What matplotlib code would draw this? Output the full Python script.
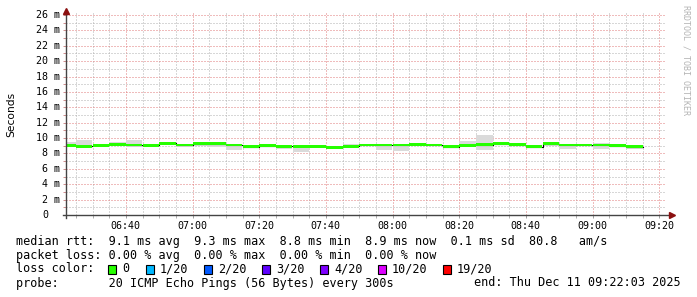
import datetime as dt
import matplotlib
matplotlib.use("Agg")
import matplotlib.pyplot as plt
import matplotlib.dates as mdates
from matplotlib.patches import Rectangle
from matplotlib.ticker import MultipleLocator

W, H = 697, 297
MONO = "DejaVu Sans Mono"

# --- data ---
day = dt.datetime(2025, 12, 11)
t_start = day.replace(hour=6, minute=22, second=3)
t_end = day.replace(hour=9, minute=22, second=3)
first_slot = day.replace(hour=6, minute=20)   # 5 minute slots

median_ms = [9.05, 8.95, 9.05, 9.2, 9.1, 9.05, 9.3, 9.1, 9.25, 9.25,
             9.1, 8.9, 9.0, 8.95, 8.95, 8.95, 8.8, 8.95, 9.1, 9.1,
             9.1, 9.2, 9.1, 8.9, 9.05, 9.15, 9.25, 9.15, 8.9, 9.25,
             9.1, 9.1, 9.1, 9.0, 8.9]
smoke_lo_ms = [8.9, 8.7, 9.0, 9.0, 8.9, 8.9, 9.1, 8.9, 9.0, 8.85,
               8.4, 8.8, 8.9, 8.6, 8.25, 8.85, 8.7, 8.8, 9.0, 8.4,
               8.35, 9.1, 9.0, 8.85, 8.9, 8.45, 9.1, 9.1, 8.85, 9.0,
               8.6, 9.0, 8.6, 8.9, 8.6]
smoke_hi_ms = [9.5, 9.8, 9.2, 9.5, 9.8, 9.1, 9.4, 9.2, 9.3, 9.4,
               9.2, 9.0, 9.1, 9.0, 9.0, 9.05, 8.9, 9.2, 9.2, 9.2,
               9.2, 9.3, 9.2, 9.0, 9.6, 10.4, 9.3, 9.2, 9.0, 9.4,
               9.2, 9.2, 9.3, 9.1, 9.0]

rtt_stats = ["9.1 ms avg", "9.3 ms max", "8.8 ms min", "8.9 ms now", "0.1 ms sd", "80.8   am/s"]
loss_stats = ["0.00 % avg", "0.00 % max", "0.00 % min", "0.00 % now"]
loss_labels = ["0", "1/20", "2/20", "3/20", "4/20", "10/20", "19/20"]
loss_colors = ["#26ff00", "#00b8ff", "#0059ff", "#5e00ff", "#7e00ff", "#dd00ff", "#ff0000"]
probe_text = "20 ICMP Echo Pings (56 Bytes) every 300s"
end_text = "end: Thu Dec 11 09:22:03 2025"

slots = [first_slot + dt.timedelta(minutes=5 * i) for i in range(len(median_ms))]
slot_w = 5 / 1440.0

# --- figure ---
fig = plt.figure(figsize=(W / 100, H / 100), dpi=100, facecolor="white")
px_per_ms = 200 / 26.0
ytop = 26.3
ax = fig.add_axes([66 / W, 82 / H, 600 / W, ytop * px_per_ms / H])
ax.set_facecolor("white")
ax.set_xlim(t_start, t_end)
ax.set_ylim(0, ytop)

# smoke
ax.bar(slots, [h - l for h, l in zip(smoke_hi_ms, smoke_lo_ms)], bottom=smoke_lo_ms,
       width=slot_w, align="edge", color="#dadada", linewidth=0, zorder=2)
# median: thin black step + thick loss-coloured bars
ax.step(slots + [slots[-1] + dt.timedelta(minutes=5)], median_ms + [median_ms[-1]],
        where="post", color="black", lw=0.8, zorder=3)
band = 0.38
ax.bar(slots, band, bottom=[m - band / 2 for m in median_ms], width=slot_w,
       align="edge", color=loss_colors[0], linewidth=0, zorder=4)

# grid
ax.xaxis.set_major_locator(mdates.MinuteLocator(byminute=[0, 20, 40]))
ax.xaxis.set_minor_locator(mdates.MinuteLocator(byminute=range(0, 60, 5)))
ax.xaxis.set_major_formatter(mdates.DateFormatter("%H:%M"))
ax.yaxis.set_major_locator(MultipleLocator(2))
ax.yaxis.set_minor_locator(MultipleLocator(1))
ax.set_yticks([v for v in range(0, 27, 2)])
ax.set_yticklabels([])
ax.set_ylim(0, ytop)
ax.grid(which="minor", color="#b0b0b0", ls=(0, (1, 2)), lw=0.72, zorder=1)
ax.grid(which="major", color="#e07a7a", ls=(0, (1, 2)), lw=0.72, zorder=1)
ax.set_axisbelow(True)
ax.tick_params(axis="x", which="both", direction="out", length=2.2, width=0.72,
               colors="#a0a0a0", pad=2, labelsize=7.2, labelcolor="black")
ax.tick_params(axis="y", which="both", direction="out", length=2.2, width=0.72,
               colors="#d09090", labelsize=7.2)
ax.tick_params(axis="x", which="minor", colors="#b0b0b0")
for lab in ax.get_xticklabels():
    lab.set_fontfamily(MONO)

# y labels
ylab_tr = ax.get_yaxis_transform()
for v in range(0, 27, 2):
    if v:
        ax.text(-6 / 600, v, f"{v} m", transform=ylab_tr, ha="right", va="center",
                fontsize=7.2, family=MONO)
    else:
        ax.text(-18 / 600, v, "0", transform=ylab_tr, ha="right", va="center",
                fontsize=7.2, family=MONO)

# axes with arrows
for s in ax.spines.values():
    s.set_visible(False)
axis_col, arrow_col = "#444444", "#8b1010"
ax.plot([-3 / 600, 603 / 600], [0, 0], transform=ax.transAxes, color=axis_col,
        lw=1.0, clip_on=False, zorder=6)
ax.plot([606 / 600], [0], transform=ax.transAxes, marker=">", ms=4.5, color=arrow_col,
        clip_on=False, zorder=7)
ax.plot([0, 0], [-3 / (ytop * px_per_ms), 1.0], transform=ax.transAxes, color=axis_col,
        lw=1.0, clip_on=False, zorder=6)
ax.plot([0], [1.0 + 2 / (ytop * px_per_ms)], transform=ax.transAxes, marker="^", ms=4.5,
        color=arrow_col, clip_on=False, zorder=7)

fig.text(11 / W, 1 - 114 / H, "Seconds", rotation=90, ha="center", va="center",
         fontsize=7.7, family="DejaVu Sans")
fig.text(686 / W, 1 - 5 / H, "RRDTOOL / TOBI OETIKER", rotation=270, ha="center",
         va="top", fontsize=6, family=MONO, color="#b4b4b4")

# legend block
def row_y(y):
    return 1 - y / H

fs = 8.5
fig.text(16 / W, row_y(241), "median rtt:  " + "  ".join(rtt_stats), ha="left",
         va="center", fontsize=fs, family=MONO)
fig.text(16 / W, row_y(255), "packet loss: " + "  ".join(loss_stats), ha="left",
         va="center", fontsize=fs, family=MONO)
fig.text(16 / W, row_y(269), "loss color:", ha="left", va="center", fontsize=fs, family=MONO)
box_x = [108, 146, 204, 262, 320, 378, 443]
for bx, lab, col in zip(box_x, loss_labels, loss_colors):
    fig.add_artist(Rectangle((bx / W, 1 - 274 / H), 8 / W, 9 / H, transform=fig.transFigure,
                             facecolor=col, edgecolor="black", lw=0.8))
    fig.text((bx + 14) / W, row_y(269), lab, ha="left", va="center", fontsize=fs, family=MONO)
fig.text(16 / W, row_y(283), "probe:       " + probe_text, ha="left", va="center",
         fontsize=fs, family=MONO)
fig.text(681 / W, row_y(283), end_text, ha="right", va="center", fontsize=fs, family=MONO)

fig.savefig("out.png", dpi=100, facecolor="white")
